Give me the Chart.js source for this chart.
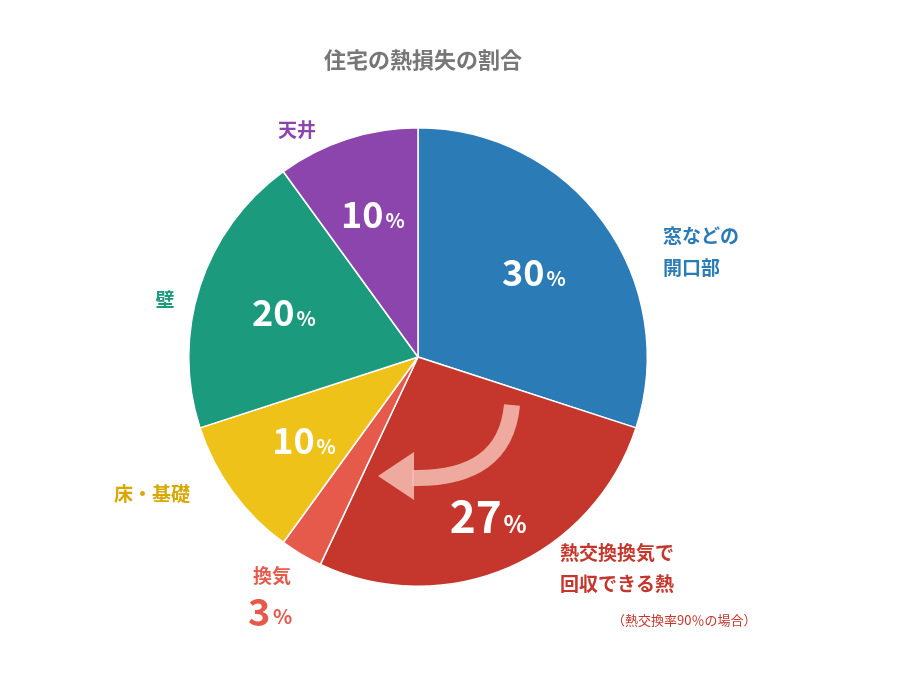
<!DOCTYPE html>
<html><head><meta charset="utf-8">
<script src="https://cdn.jsdelivr.net/npm/chart.js@4"></script>
<style>html,body{margin:0;background:#fff}#wrap{width:920px;height:680px}</style>
</head><body><div id="wrap"><canvas id="c"></canvas></div>
<script>
// 住宅の熱損失の割合
const categories = ["窓などの開口部", "熱交換換気で回収できる熱", "換気", "床・基礎", "壁", "天井"];
const values = [30, 27, 3, 10, 20, 10];
const colors = ["#2b7bb6", "#c5362c", "#e65a4c", "#efc21a", "#1b9a7d", "#8c45ad"];
const FONT = "'Noto Sans CJK JP', 'Noto Sans', sans-serif";

// 扇形の中の数値（3%は外に出す）
const innerFactor = [0.62, 0.76, 0, 0.62, 0.62, 0.65];

const labelPlugin = {
  id: "labels",
  afterDraw(chart) {
    const ctx = chart.ctx;
    const arcs = chart.getDatasetMeta(0).data;
    ctx.save();
    // タイトル
    ctx.fillStyle = "#777";
    ctx.font = "bold 22px " + FONT;
    ctx.textAlign = "center";
    ctx.textBaseline = "middle";
    ctx.fillText("住宅の熱損失の割合", 423, 60);

    // 矢印
    const cx = arcs[0].x, cy = arcs[0].y;
    ctx.strokeStyle = "rgba(245,190,180,0.85)";
    ctx.fillStyle = "rgba(245,190,180,0.85)";
    ctx.lineWidth = 16;
    ctx.lineCap = "butt";
    ctx.beginPath();
    ctx.moveTo(512, 405);
    ctx.quadraticCurveTo(505, 480, 412, 478);
    ctx.stroke();
    ctx.beginPath();
    ctx.moveTo(378, 476);
    ctx.lineTo(414, 452);
    ctx.lineTo(414, 500);
    ctx.closePath();
    ctx.fill();

    // 数値
    arcs.forEach((a, i) => {
      if (!innerFactor[i]) return;
      const mid = (a.startAngle + a.endAngle) / 2;
      const r = a.outerRadius * innerFactor[i];
      const x = a.x + Math.cos(mid) * r, y = a.y + Math.sin(mid) * r;
      const big = i === 1 ? 44 : 36;
      ctx.font = "bold " + big + "px " + FONT;
      const w1 = ctx.measureText(String(values[i])).width;
      ctx.font = "bold " + Math.round(big * 0.55) + "px " + FONT;
      const w2 = ctx.measureText("%").width;
      ctx.fillStyle = "#fff";
      ctx.textAlign = "left";
      ctx.textBaseline = "alphabetic";
      ctx.font = "bold " + big + "px " + FONT;
      ctx.fillText(String(values[i]), x - (w1 + w2) / 2, y + big * 0.36);
      ctx.font = "bold " + Math.round(big * 0.55) + "px " + FONT;
      ctx.fillText("%", x - (w1 + w2) / 2 + w1 + 2, y + big * 0.36);
    });

    // 外側のラベル
    ctx.textBaseline = "middle";
    ctx.font = "bold 19px " + FONT;
    const t = (s, x, y, c, al) => { ctx.fillStyle = c; ctx.textAlign = al || "left"; ctx.fillText(s, x, y); };
    t("窓などの", 663, 236, colors[0]);
    t("開口部", 663, 268, colors[0]);
    t("熱交換換気で", 560, 553, colors[1]);
    t("回収できる熱", 560, 584, colors[1]);
    ctx.font = "13px " + FONT;
    t("（熱交換率90％の場合）", 612, 620, colors[1]);
    ctx.font = "bold 19px " + FONT;
    t("換気", 272, 576, colors[2], "center");
    t("床・基礎", 152, 494, "#d8a800", "center");
    t("壁", 165, 300, colors[4], "center");
    t("天井", 297, 130, colors[5], "center");
    ctx.font = "bold 38px " + FONT;
    ctx.fillStyle = colors[2];
    ctx.textAlign = "left";
    ctx.fillText("3", 248, 612);
    ctx.font = "bold 20px " + FONT;
    ctx.fillText("%", 273, 616);
    ctx.restore();
  }
};

new Chart(document.getElementById("c"), {
  type: "pie",
  data: {
    labels: categories,
    datasets: [{ data: values, backgroundColor: colors, borderColor: "#fff", borderWidth: 1.5 }]
  },
  options: {
    responsive: true,
    maintainAspectRatio: false,
    animation: false,
    layout: { padding: { left: 188, top: 127, right: 272, bottom: 93 } },
    plugins: { legend: { display: false }, tooltip: { enabled: false } }
  },
  plugins: [labelPlugin]
});
</script></body></html>
